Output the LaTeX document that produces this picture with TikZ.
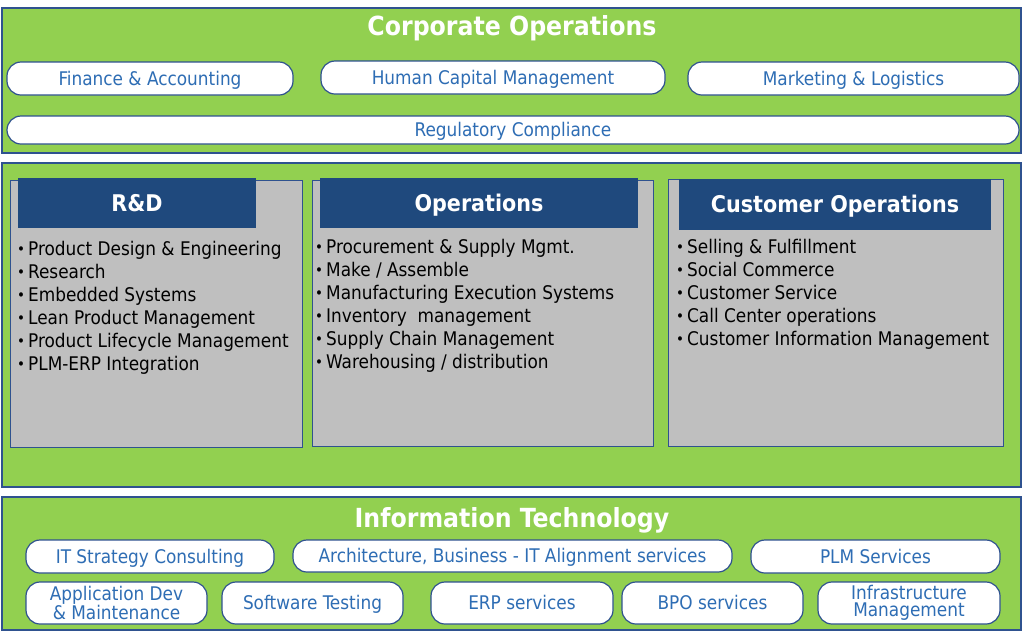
\documentclass[tikz,border=0pt]{standalone}
\usepackage{fontspec}
\setmainfont{DejaVu Sans Condensed}
\definecolor{grn}{HTML}{92D050}
\definecolor{edge}{HTML}{2F528F}
\definecolor{hdr}{HTML}{1F497D}
\definecolor{pilltext}{HTML}{2E6DB4}
\definecolor{boxgray}{HTML}{BFBFBF}
\begin{document}
\begin{tikzpicture}[x=1pt,y=-1pt,
  panel/.style={draw=edge, fill=grn, line width=1.5pt, rectangle, inner sep=0pt},
  title/.style={text=white, font=\bfseries\fontsize{26.3}{28}\selectfont, inner sep=0pt},
  pill/.style={draw=edge, fill=white, rounded corners=14pt, line width=1.2pt, text=pilltext,
    font=\fontsize{18.8}{17}\selectfont, align=center, inner sep=0pt},
  one/.style={text height=16pt, text depth=2.3pt},
  graybox/.style={draw=edge, fill=boxgray, line width=1pt, inner sep=0pt},
  hdrbox/.style={fill=hdr, inner sep=0pt, text=white, text height=20pt, text depth=3.2pt, font=\bfseries\fontsize{23}{24}\selectfont},
  bul/.style={inner sep=0pt, anchor=base west, text=black, font=\fontsize{18.8}{20}\selectfont}
]
\useasboundingbox (0,0) rectangle (1024,633);
% panels
\node[panel, minimum width=1019pt, minimum height=145pt] (top) at (511.5,80.5) {};
\node[panel, minimum width=1019pt, minimum height=324pt] (mid) at (511.5,325) {};
\node[panel, minimum width=1019pt, minimum height=133pt] (bot) at (511.5,563.5) {};
% corporate
\node[title] (corp) at (512,28) {Corporate Operations};
\node[pill, one, minimum width=286pt, minimum height=33pt] (fin) at (150,78.5) {Finance \& Accounting};
\node[pill, one, minimum width=344pt, minimum height=33pt] (hcm) at (493,77.5) {Human Capital Management};
\node[pill, one, minimum width=331pt, minimum height=33pt] (mkt) at (853.5,78.5) {Marketing \& Logistics};
\node[pill, one, minimum width=1012pt, minimum height=28pt] (reg) at (513,130) {Regulatory Compliance};
% middle boxes
\node[graybox, minimum width=292pt, minimum height=267pt] (rdbox) at (156,313.5) {};
\node[graybox, minimum width=341pt, minimum height=266pt] (opbox) at (482.5,313) {};
\node[graybox, minimum width=335pt, minimum height=267pt] (cobox) at (835.5,312.5) {};
\node[hdrbox, minimum width=238pt, minimum height=50pt] (rdh) at (137,203) {R\&D};
\node[hdrbox, minimum width=318pt, minimum height=50pt] (oph) at (479,203) {Operations};
\node[hdrbox, minimum width=312pt, minimum height=51pt] (coh) at (835,204.5) {Customer Operations};
\foreach \t [count=\i from 0] in {Product Design \& Engineering, Research, Embedded Systems, Lean Product Management, Product Lifecycle Management, PLM-ERP Integration}
  \node[bul] (rd\i) at (17,255+23*\i) {{\fontsize{15}{15}\selectfont\raisebox{1pt}{•}}\hspace{3pt}\t};
\foreach \t [count=\i from 0] in {Procurement \& Supply Mgmt., Make / Assemble, Manufacturing Execution Systems, Inventory\ \ management, Supply Chain Management, Warehousing / distribution}
  \node[bul] (op\i) at (315,253+23*\i) {{\fontsize{15}{15}\selectfont\raisebox{1pt}{•}}\hspace{3pt}\t};
\foreach \t [count=\i from 0] in {Selling \& Fulfillment, Social Commerce, Customer Service, Call Center operations, Customer Information Management}
  \node[bul] (co\i) at (676,253+23*\i) {{\fontsize{15}{15}\selectfont\raisebox{1pt}{•}}\hspace{3pt}\t};
% IT
\node[title] (it) at (512,520) {Information Technology};
\node[pill, one, minimum width=248pt, minimum height=33pt] (its) at (150,556.5) {IT Strategy Consulting};
\node[pill, one, minimum width=439pt, minimum height=32pt] (arch) at (512.5,556) {Architecture, Business - IT Alignment services};
\node[pill, one, minimum width=249pt, minimum height=33pt] (plm) at (875.5,556.5) {PLM Services};
\node[pill, minimum width=181pt, minimum height=42pt] (app) at (116.5,603) {Application Dev\\\& Maintenance};
\node[pill, one, minimum width=181pt, minimum height=42pt] (sw) at (312.5,603) {Software Testing};
\node[pill, one, minimum width=182pt, minimum height=42pt] (erp) at (522,603) {ERP services};
\node[pill, one, minimum width=181pt, minimum height=42pt] (bpo) at (712.5,603) {BPO services};
\node[pill, minimum width=182pt, minimum height=42pt] (inf) at (909,603) {Infrastructure\\Management};
\end{tikzpicture}
\end{document}
